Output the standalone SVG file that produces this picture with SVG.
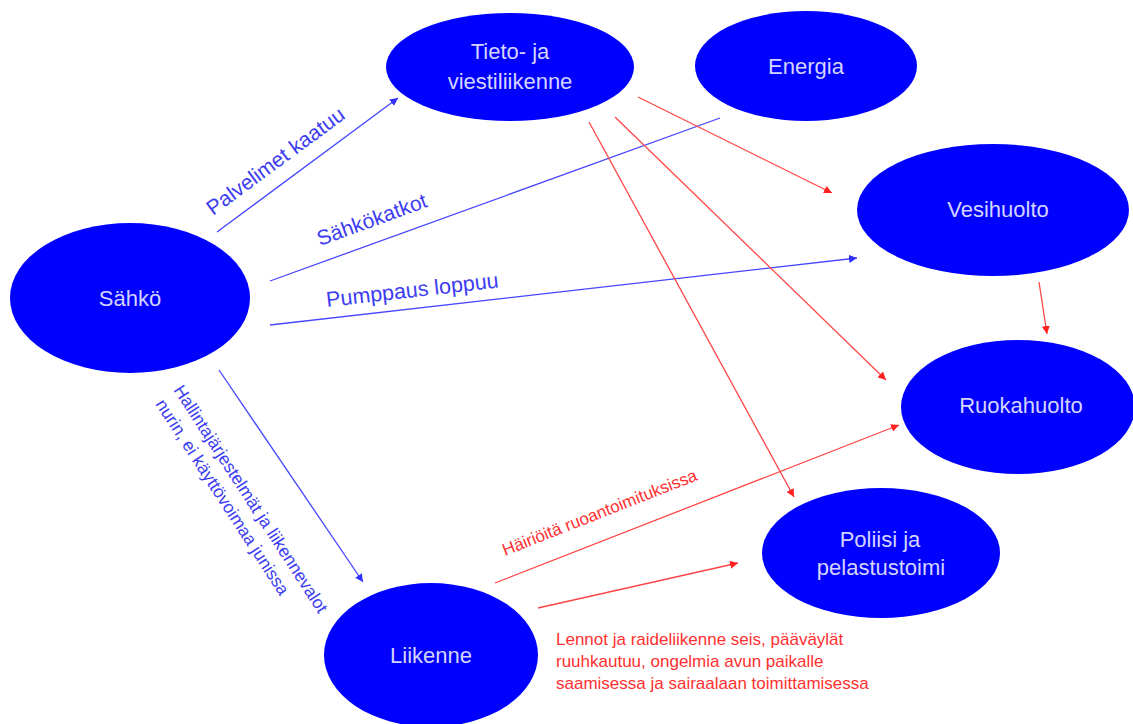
<svg xmlns="http://www.w3.org/2000/svg" width="1133" height="724" viewBox="0 0 1133 724">
<style>
.node{fill:#0000ff}
.nt{font-family:"Liberation Sans",Arial,sans-serif;font-size:22px;fill:#d4d4ff;text-anchor:middle}
.bl{stroke:#4646ff;stroke-width:1.3;fill:none}
.rd{stroke:#ff4646;stroke-width:1.3;fill:none}
.blt{font-family:"Liberation Sans",Arial,sans-serif;fill:#3c3cf0}
.rdt{font-family:"Liberation Sans",Arial,sans-serif;fill:#ff3030}
</style>
<defs>
<marker id="ab" viewBox="0 0 10 10" refX="10" refY="5" markerWidth="8" markerHeight="8" markerUnits="userSpaceOnUse" orient="auto"><path d="M0,0 L10,5 L0,10 z" fill="#3030ff"/></marker>
<marker id="ar" viewBox="0 0 10 10" refX="10" refY="5" markerWidth="8" markerHeight="8" markerUnits="userSpaceOnUse" orient="auto"><path d="M0,0 L10,5 L0,10 z" fill="#ff2020"/></marker>
</defs>
<rect width="1133" height="724" fill="#ffffff"/>
<g id="nodes">
<g id="sahko"><ellipse class="node" cx="130" cy="298" rx="120" ry="75"/><text class="nt" x="130" y="306">Sähkö</text></g>
<g id="tieto"><ellipse class="node" cx="510" cy="67" rx="124" ry="54"/><text class="nt" x="510" y="59">Tieto- ja</text><text class="nt" x="510" y="89">viestiliikenne</text></g>
<g id="energia"><ellipse class="node" cx="806" cy="66" rx="111" ry="55"/><text class="nt" x="806" y="74">Energia</text></g>
<g id="vesihuolto"><ellipse class="node" cx="993" cy="210" rx="136" ry="66"/><text class="nt" x="998" y="217">Vesihuolto</text></g>
<g id="ruokahuolto"><ellipse class="node" cx="1018" cy="407" rx="117" ry="67"/><text class="nt" x="1021" y="413">Ruokahuolto</text></g>
<g id="poliisi"><ellipse class="node" cx="881" cy="553" rx="119" ry="65"/><text class="nt" x="880" y="547">Poliisi ja</text><text class="nt" x="881" y="575">pelastustoimi</text></g>
<g id="liikenne"><ellipse class="node" cx="431" cy="655" rx="107" ry="72"/><text class="nt" x="431" y="663">Liikenne</text></g>
</g>
<g id="connectors">
<line class="bl" x1="217" y1="232" x2="398" y2="98" marker-end="url(#ab)"/>
<line class="bl" x1="270" y1="281" x2="720" y2="118"/>
<line class="bl" x1="270" y1="325" x2="857" y2="258" marker-end="url(#ab)"/>
<line class="bl" x1="219" y1="370" x2="363" y2="582" marker-end="url(#ab)"/>
<line class="rd" x1="638" y1="97" x2="832" y2="193" marker-end="url(#ar)"/>
<line class="rd" x1="615" y1="117" x2="886" y2="380" marker-end="url(#ar)"/>
<line class="rd" x1="589" y1="122" x2="794" y2="497" marker-end="url(#ar)"/>
<line class="rd" x1="1039" y1="282" x2="1047" y2="334" marker-end="url(#ar)"/>
<line class="rd" x1="495" y1="583" x2="899" y2="425" marker-end="url(#ar)"/>
<line class="rd" x1="538" y1="608" x2="738" y2="563" marker-end="url(#ar)"/>
</g>
<g id="labels">
<text class="blt" font-size="21" transform="translate(213,216) rotate(-36.4)">Palvelimet kaatuu</text>
<text class="blt" font-size="21" transform="translate(320,246) rotate(-20)">Sähkökatkot</text>
<text class="blt" font-size="21.5" transform="translate(327,307) rotate(-6.5)">Pumppaus loppuu</text>
<text class="blt" font-size="17.5" transform="translate(173,390) rotate(57)">Hallintajärjestelmät ja liikennevalot</text>
<text class="blt" font-size="17.5" transform="translate(155,404) rotate(57)">nurin, ei käyttövoimaa junissa</text>
<text class="rdt" font-size="17" transform="translate(505,556) rotate(-21.5)">Häiriöitä ruoantoimituksissa</text>
<text class="rdt" font-size="17" x="556" y="645">Lennot ja raideliikenne seis, pääväylät</text>
<text class="rdt" font-size="17" x="556" y="667">ruuhkautuu, ongelmia avun paikalle</text>
<text class="rdt" font-size="17" x="556" y="689">saamisessa ja sairaalaan toimittamisessa</text>
</g>
</svg>
